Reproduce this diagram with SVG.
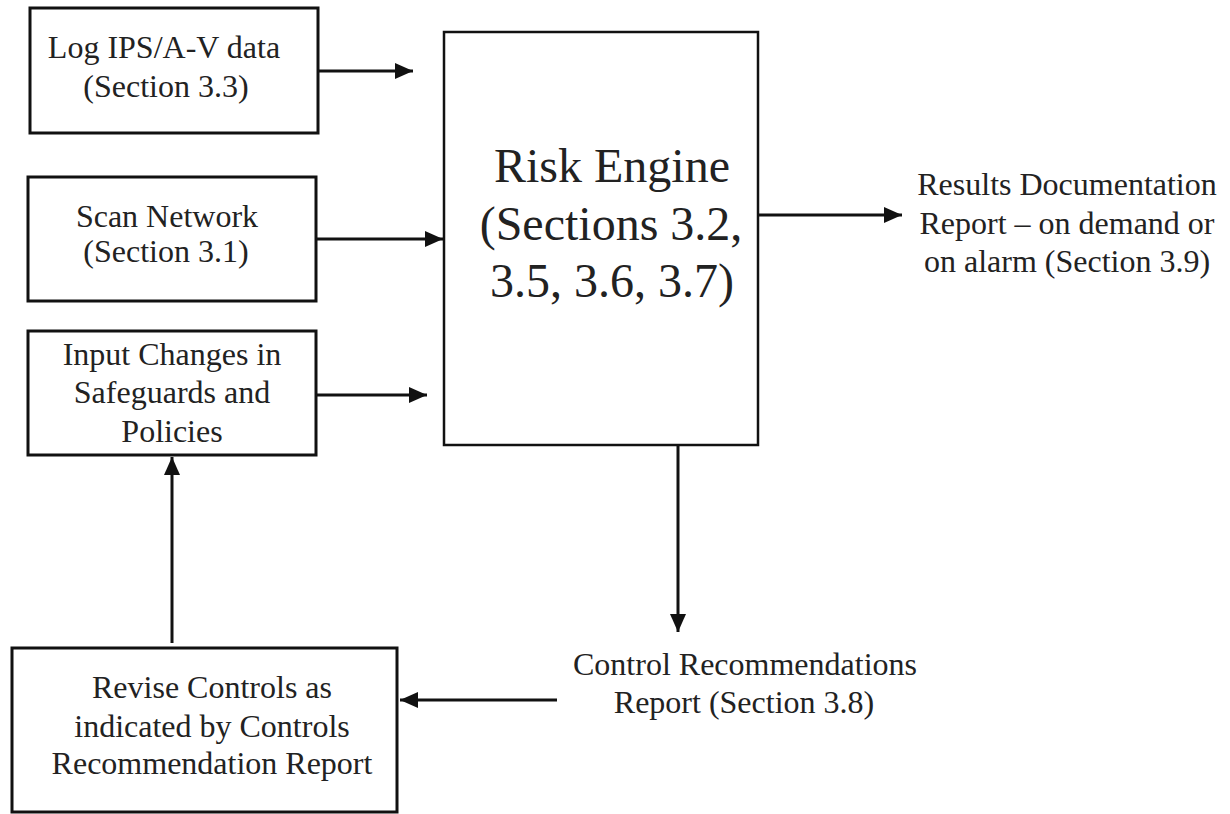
<svg xmlns="http://www.w3.org/2000/svg" width="1230" height="814" viewBox="0 0 1230 814">
<style>
.box{fill:#fff;stroke:#111;stroke-width:3}
.t{font-family:"Liberation Serif","Times New Roman",serif;font-size:32px;fill:#222;text-anchor:middle}
.big{font-size:48px}
.c{stroke:#111;stroke-width:3;fill:none;marker-end:url(#ah)}
</style>
<defs>
<marker id="ah" markerUnits="userSpaceOnUse" markerWidth="20" markerHeight="18" refX="18" refY="8" orient="auto">
<path d="M0,0 L18,8 L0,16 z" fill="#111"/>
</marker>
</defs>
<rect width="1230" height="814" fill="#fff"/>
<g id="log">
<rect class="box" x="30" y="8" width="288" height="125"/>
<text class="t" x="164" y="58">Log IPS/A-V data</text>
<text class="t" x="166" y="97">(Section 3.3)</text>
</g>
<g id="scan">
<rect class="box" x="28" y="177" width="288" height="124"/>
<text class="t" x="167" y="227">Scan Network</text>
<text class="t" x="166" y="262">(Section 3.1)</text>
</g>
<g id="input">
<rect class="box" x="28" y="331" width="288" height="124"/>
<text class="t" x="172" y="365">Input Changes in</text>
<text class="t" x="172" y="403">Safeguards and</text>
<text class="t" x="172" y="442">Policies</text>
</g>
<g id="risk">
<rect class="box" x="444" y="32" width="314" height="413" style="stroke-width:2.5"/>
<text class="t big" x="612" y="182">Risk Engine</text>
<text class="t big" x="611" y="240">(Sections 3.2,</text>
<text class="t big" x="612" y="297">3.5, 3.6, 3.7)</text>
</g>
<g id="results">
<text class="t" x="1067" y="195">Results Documentation</text>
<text class="t" x="1067" y="234">Report – on demand or</text>
<text class="t" x="1067" y="272">on alarm (Section 3.9)</text>
</g>
<g id="control">
<text class="t" x="745" y="675">Control Recommendations</text>
<text class="t" x="744" y="713">Report (Section 3.8)</text>
</g>
<g id="revise">
<rect class="box" x="12" y="648" width="385" height="164"/>
<text class="t" x="212" y="698">Revise Controls as</text>
<text class="t" x="212" y="737">indicated by Controls</text>
<text class="t" x="212" y="774">Recommendation Report</text>
</g>
<g id="connectors">
<line class="c" x1="318" y1="71" x2="413" y2="71"/>
<line class="c" x1="316" y1="239" x2="443" y2="239"/>
<line class="c" x1="316" y1="395" x2="427" y2="395"/>
<line class="c" x1="758" y1="215" x2="902" y2="215"/>
<line class="c" x1="678" y1="445" x2="678" y2="632"/>
<line class="c" x1="557" y1="700" x2="400" y2="700"/>
<line class="c" x1="172" y1="643" x2="172" y2="457"/>
</g>
</svg>
